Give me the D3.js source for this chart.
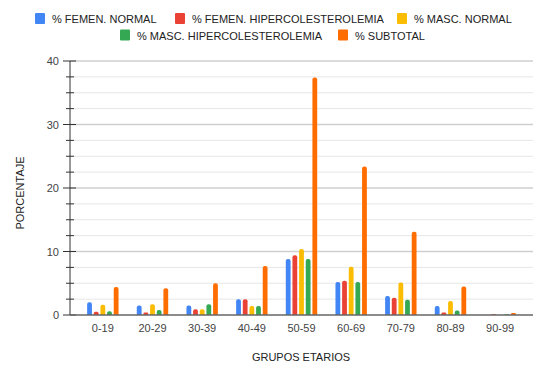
<!DOCTYPE html>
<html>
<head>
<meta charset="utf-8">
<script src="https://cdn.jsdelivr.net/npm/d3@7/dist/d3.min.js"></script>
<style>
  body { margin: 0; background: #fff; }
  text { font-family: Arial, "Liberation Sans", sans-serif; }
</style>
</head>
<body>
<div id="chart"></div>
<script>
const groups = ["0-19", "20-29", "30-39", "40-49", "50-59", "60-69", "70-79", "80-89", "90-99"];
const seriesNames = ["% FEMEN. NORMAL", "% FEMEN. HIPERCOLESTEROLEMIA", "% MASC. NORMAL", "% MASC. HIPERCOLESTEROLEMIA", "% SUBTOTAL"];
const seriesColors = ["#4285f4", "#ea4335", "#fbbc04", "#34a853", "#ff6d01"];

const femNormal = [2.0, 1.5, 1.5, 2.5, 8.8, 5.2, 3.0, 1.4, 0];
const femHiper  = [0.5, 0.4, 0.9, 2.5, 9.4, 5.4, 2.7, 0.4, 0.1];
const mascNormal = [1.6, 1.7, 0.9, 1.4, 10.4, 7.6, 5.1, 2.2, 0];
const mascHiper = [0.6, 0.8, 1.7, 1.4, 8.8, 5.2, 2.4, 0.7, 0.1];
const subtotal = [4.4, 4.2, 5.0, 7.7, 37.4, 23.4, 13.1, 4.5, 0.3];

const yTicks = [0, 10, 20, 30, 40];

const seriesValues = [femNormal, femHiper, mascNormal, mascHiper, subtotal];

const width = 554, height = 376;
const plotLeft = 70, plotRight = 533, plotTop = 61, plotBottom = 315;

const svg = d3.select("#chart").append("svg")
    .attr("width", width)
    .attr("height", height);

const x = d3.scaleBand()
    .domain(groups)
    .range([78, 525])
    .padding(0);

const xInner = d3.scaleBand()
    .domain(d3.range(seriesNames.length))
    .range([-15.7, 15.7])
    .paddingInner(0.28);

const y = d3.scaleLinear()
    .domain([0, 40])
    .range([plotBottom, plotTop]);

// Gridlines, minor every 2.5
const minorTicks = d3.range(0, 40.01, 2.5);
svg.append("g")
    .selectAll("line")
    .data(minorTicks.filter(t => t > 0))
    .enter()
    .append("line")
    .attr("x1", plotLeft)
    .attr("x2", plotRight)
    .attr("y1", d => y(d))
    .attr("y2", d => y(d))
    .attr("stroke", d => d % 10 === 0 ? "#cfcfcf" : "#e6e6e6")
    .attr("stroke-width", d => d % 10 === 0 ? 1.5 : 1);

// Y axis line + ticks
svg.append("line")
    .attr("x1", plotLeft).attr("x2", plotLeft)
    .attr("y1", plotTop).attr("y2", plotBottom)
    .attr("stroke", "#333").attr("stroke-width", 1);

svg.append("g")
    .selectAll("line")
    .data(minorTicks)
    .enter()
    .append("line")
    .attr("x1", d => d % 10 === 0 ? plotLeft - 7 : plotLeft - 4)
    .attr("x2", d => d % 10 === 0 ? plotLeft + 6 : plotLeft + 4)
    .attr("y1", d => y(d))
    .attr("y2", d => y(d))
    .attr("stroke", "#333")
    .attr("stroke-width", 1);

svg.append("g")
    .selectAll("text")
    .data(yTicks)
    .enter()
    .append("text")
    .attr("x", plotLeft - 11)
    .attr("y", d => y(d) + 4)
    .attr("text-anchor", "end")
    .attr("font-size", "11px")
    .attr("fill", "#444")
    .text(d => d);

// Bars
const barGroups = svg.append("g")
    .selectAll("g")
    .data(groups)
    .enter()
    .append("g")
    .attr("transform", d => `translate(${x(d) + x.bandwidth() / 2},0)`);

barGroups.selectAll("path")
    .data((g, gi) => seriesValues.map((vals, si) => ({ si, value: vals[gi] })))
    .enter()
    .append("path")
    .filter(d => d.value > 0)
    .attr("fill", d => seriesColors[d.si])
    .attr("d", d => {
        const x0 = xInner(d.si), w = xInner.bandwidth();
        const top = y(d.value), bottom = y(0);
        const r = Math.min(w / 2, (bottom - top) / 2, 2);
        return `M${x0},${bottom}V${top + r}Q${x0},${top} ${x0 + r},${top}H${x0 + w - r}Q${x0 + w},${top} ${x0 + w},${top + r}V${bottom}Z`;
    });

// X baseline
svg.append("line")
    .attr("x1", plotLeft).attr("x2", plotRight)
    .attr("y1", plotBottom).attr("y2", plotBottom)
    .attr("stroke", "#666").attr("stroke-width", 1.5);

// X labels
svg.append("g")
    .selectAll("text")
    .data(groups)
    .enter()
    .append("text")
    .attr("x", d => x(d) + x.bandwidth() / 2)
    .attr("y", 332)
    .attr("text-anchor", "middle")
    .attr("font-size", "11px")
    .attr("fill", "#444")
    .text(d => d);

// Axis titles
svg.append("text")
    .attr("x", 301)
    .attr("y", 361)
    .attr("text-anchor", "middle")
    .attr("font-size", "11px")
    .attr("fill", "#222")
    .text("GRUPOS ETARIOS");

svg.append("text")
    .attr("transform", "translate(24,193) rotate(-90)")
    .attr("text-anchor", "middle")
    .attr("font-size", "11px")
    .attr("fill", "#222")
    .text("PORCENTAJE");

// Legend
const legendRows = [
    { y: 19, items: [0, 1, 2], xs: [35, 175, 397] },
    { y: 35.5, items: [3, 4], xs: [120, 338] }
];
legendRows.forEach(row => {
    row.items.forEach((si, k) => {
        const g = svg.append("g").attr("transform", `translate(${row.xs[k]},${row.y})`);
        g.append("rect")
            .attr("x", 0).attr("y", -6)
            .attr("width", 10).attr("height", 11)
            .attr("rx", 1)
            .attr("fill", seriesColors[si]);
        g.append("text")
            .attr("x", 17).attr("y", 4)
            .attr("font-size", "11px")
            .attr("fill", "#222")
            .text(seriesNames[si]);
    });
});
</script>
</body>
</html>
